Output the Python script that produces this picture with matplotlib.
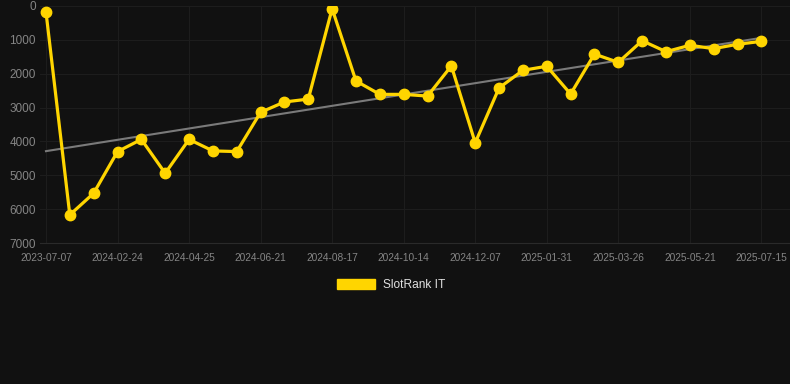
import numpy as np
import matplotlib

matplotlib.use("Agg")
import matplotlib.pyplot as plt
from matplotlib.patches import Patch

# rank per snapshot (lower is better), evenly spaced categories
ranks = [170, 6170, 5530, 4300, 3940, 4940, 3940, 4280, 4300, 3140,
         2835, 2750, 80, 2215, 2610, 2610, 2660, 1770, 4040, 2420,
         1900, 1780, 2600, 1420, 1665, 1025, 1350, 1160, 1260, 1130, 1045]
tick_labels = ["2023-07-07", "2024-02-24", "2024-04-25", "2024-06-21",
               "2024-08-17", "2024-10-14", "2024-12-07", "2025-01-31",
               "2025-03-26", "2025-05-21", "2025-07-15"]
y_ticks = [0, 1000, 2000, 3000, 4000, 5000, 6000, 7000]
series_name = "SlotRank IT"

BG = "#111111"
GOLD = "#FFD500"
TICK = "#858585"
GRID = "#1d1d1d"

plt.rcParams["font.family"] = ["Liberation Sans", "DejaVu Sans"]

fig = plt.figure(figsize=(7.9, 3.84), dpi=100, facecolor=BG)
ax = fig.add_axes([40 / 790, 1 - 243 / 384, 750 / 790, 237 / 384])
ax.set_facecolor(BG)

x = np.arange(len(ranks))
slope, intercept = np.polyfit(x, ranks, 1)
ax.plot(x, slope * x + intercept, color="#7a7a7a", linewidth=1.5, zorder=2)
ax.plot(x, ranks, color=GOLD, linewidth=2.3, marker="o", markersize=7.5, zorder=3)

ax.set_ylim(7000, 0)
ax.set_yticks(y_ticks)
ax.set_yticklabels([str(v) for v in y_ticks])
ax.set_xlim(-0.25, 31.2)
ax.set_xticks(x[::3])
ax.set_xticklabels(tick_labels)

ax.tick_params(axis="y", colors=TICK, labelsize=8.5, length=0, pad=3)
ax.tick_params(axis="x", colors=TICK, labelsize=7.3, length=0, pad=7)
ax.grid(True, color=GRID, linewidth=0.8)
for s in ax.spines.values():
    s.set_visible(False)
ax.spines["bottom"].set_visible(True)
ax.spines["bottom"].set_color("#2a2a2a")

leg = fig.legend(handles=[Patch(facecolor=GOLD, edgecolor=GOLD, label=series_name)],
                 loc="center", bbox_to_anchor=(391 / 790, 1 - 285 / 384),
                 frameon=False, fontsize=8.6, handlelength=3.2, handleheight=0.95,
                 handletextpad=0.6)
for t in leg.get_texts():
    t.set_color("#e0e0e0")

fig.savefig("out.png", dpi=100, facecolor=BG)
